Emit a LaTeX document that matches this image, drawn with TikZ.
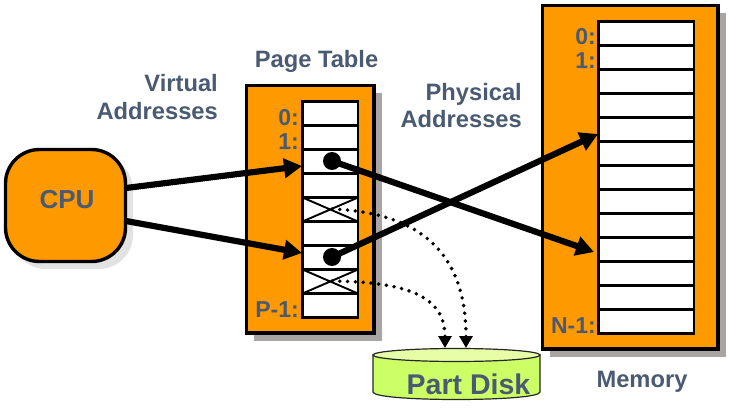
\documentclass[tikz,border=0pt]{standalone}
\usepackage{fontspec}
\setmainfont{Liberation Sans}
\usetikzlibrary{arrows.meta,calc}
\definecolor{panel}{HTML}{FF9900}
\definecolor{shade}{HTML}{A9A5A3}
\definecolor{softshade}{HTML}{E2E2E2}
\definecolor{ink}{HTML}{4A5A72}
\definecolor{diskbody}{HTML}{CCFF66}
\definecolor{disktop}{HTML}{E6FFA6}
\tikzset{
  panelbox/.style={draw=black,line width=3.4pt,fill=panel,inner sep=0pt,outer sep=0pt,anchor=north west},
  shadebox/.style={fill=shade,draw=none,inner sep=0pt,outer sep=0pt,anchor=north west},
  cellbox/.style={draw=black,line width=2.4pt,fill=white,inner sep=0pt,outer sep=0pt,anchor=north west,minimum height=24pt},
  lab/.style={text=ink,font=\fontsize{23.7}{27}\selectfont\bfseries,inner sep=0pt},
  idx/.style={lab,anchor=base east,font=\fontsize{23}{26}\selectfont\bfseries},
  bigarrow/.style={line width=6.2pt,-{Triangle[length=18pt,width=19pt]}},
  dotarrow/.style={line width=3.9pt,line cap=round,dash pattern=on 0pt off 7.8pt,-{Triangle[length=12pt,width=13pt,sep=0pt]}},
  dotnode/.style={circle,fill=black,inner sep=0pt,minimum size=18pt},
  crossline/.style={line width=1.9pt}
}
\begin{document}
\begin{tikzpicture}[x=1pt,y=-1pt]
\useasboundingbox (0,0) rectangle (753,412);
% CPU
\node[fill=softshade,rounded corners=34pt,minimum width=121pt,minimum height=113pt,inner sep=0pt,outer sep=0pt,anchor=north west] (cpushade) at (12,156) {};
\node[draw=black,line width=3.4pt,fill=panel,rounded corners=34pt,minimum width=120pt,minimum height=112pt,inner sep=0pt,outer sep=0pt,anchor=north west] (cpu) at (5.5,149.5) {};
\node[lab,anchor=base,font=\fontsize{26}{29}\selectfont\bfseries] (cputext) at (67,208) {CPU};
% Page table
\node[shadebox,minimum width=128pt,minimum height=248pt] (ptshade) at (254,93) {};
\node[panelbox,minimum width=127.5pt,minimum height=247.5pt] (pt) at (246.5,85.5) {};
\foreach \i in {0,...,8}{
  \node[cellbox,minimum width=55.5pt] (pt\i) at (302.5,{101.5+24*\i}) {};
}
\draw[crossline] (pt4.north west) -- (pt4.south east) (pt4.south west) -- (pt4.north east);
\draw[crossline] (pt7.north west) -- (pt7.south east) (pt7.south west) -- (pt7.north east);
% Memory
\node[shadebox,minimum width=176pt,minimum height=344pt] (memshade) at (550,13) {};
\node[panelbox,minimum width=175.5pt,minimum height=343.5pt] (mem) at (542.5,5.5) {};
\foreach \i in {0,...,12}{
  \node[cellbox,minimum width=95.5pt] (mem\i) at (598.5,{21.5+24*\i}) {};
}
% Disk
\coordinate (disktip1) at (445,348);
\coordinate (disktip2) at (466,348);
\filldraw[fill=diskbody,draw=black!85,line width=1.2pt] (373,355) -- (373,392) .. controls (373,402) and (540,402) .. (540,392) -- (540,355) -- cycle;
\filldraw[fill=disktop,draw=black!85,line width=1.2pt] (456.5,355) ellipse [x radius=83.5pt,y radius=6.5pt];
\node[lab,anchor=base,font=\fontsize{28.5}{31}\selectfont\bfseries] (disklabel) at (468.5,394) {Part Disk};
% Labels
\node[lab,anchor=base east] (v1) at (218,92) {Virtual};
\node[lab,anchor=base east] (v2) at (218,120) {Addresses};
\node[lab,anchor=base] (pttitle) at (316.5,67) {Page Table};
\node[lab,anchor=base east] (p1) at (522,100) {Physical};
\node[lab,anchor=base east] (p2) at (522,128) {Addresses};
\node[lab,anchor=base] (memtitle) at (642,387) {Memory};
\node[idx] (pa) at (299,125) {0:};
\node[idx] (pb) at (299,149) {1:};
\node[idx] (pc) at (299,317) {P-1:};
\node[idx] (ma) at (596,45) {0:};
\node[idx] (mb) at (596,69) {1:};
\node[idx] (mc) at (596,333) {N-1:};
% Pointers
\node[dotnode] (d1) at (332,161) {};
\node[dotnode] (d2) at (332,257) {};
\coordinate (x1) at (332,209);
\coordinate (x2) at (332,281);
\coordinate (c1) at (126,188);
\coordinate (c2) at (126,221);
\coordinate (t1) at (302,166);
\coordinate (t2) at (302,253);
\coordinate (m1) at (598,134);
\coordinate (m2) at (594,252);
\draw[bigarrow] (c1) -- (t1);
\draw[bigarrow] (c2) -- (t2);
\draw[bigarrow] (d1.center) -- (m2);
\draw[bigarrow] (d2.center) -- (m1);
\draw[dotarrow] (x1) .. controls (430,213) and (466,262) .. (disktip2);
\draw[dotarrow] (x2) .. controls (405,282) and (445,295) .. (disktip1);
\end{tikzpicture}
\end{document}
